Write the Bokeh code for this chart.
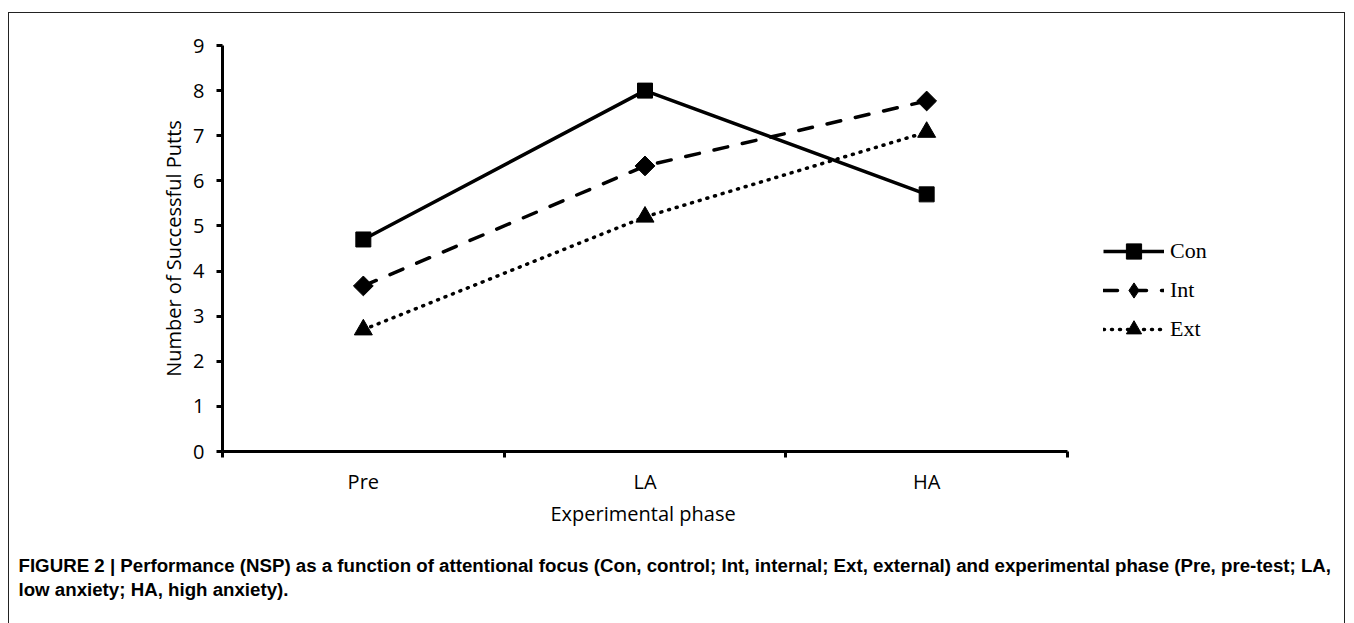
import numpy as np
from bokeh.plotting import figure
from bokeh.models import (FixedTicker, Legend, LegendItem, Title, Range1d)
from bokeh.embed import file_html
from bokeh.resources import INLINE

# ---- data ----
phases = ["Pre", "LA", "HA"]
con = [4.7, 8.0, 5.7]
int_ = [3.67, 6.33, 7.77]
ext = [2.7, 5.2, 7.08]
series_names = ["Con", "Int", "Ext"]
y_ticks = [0, 1, 2, 3, 4, 5, 6, 7, 8, 9]
x_title = "Experimental phase"
y_title = "Number of Successful Putts"
caption_1 = ("FIGURE 2 | Performance (NSP) as a function of attentional focus (Con, control; "
             "Int, internal; Ext, external) and experimental phase (Pre, pre-test; LA,")
caption_2 = "low anxiety; HA, high anxiety)."

xs = [i + 0.5 for i in range(len(phases))]

# layout constants (pixels)
W, H = 1337, 630
LEFT, TOP = 213, 32
FRAME_H = 406
BOTTOM = H - TOP - FRAME_H
AXIS_PX = 845                      # pixel length of the category axis
frame_w = W - LEFT
x_end = len(phases) * frame_w / AXIS_PX

p = figure(width=W, height=H, output_backend="svg", toolbar_location=None,
           x_range=Range1d(0, x_end), y_range=Range1d(0, 9))
p.margin = (12, 0, 0, 8)
p.styles = {"border": "1px solid #222222"}
p.min_border_left = LEFT
p.min_border_right = 0
p.min_border_top = TOP
p.min_border_bottom = BOTTOM
p.outline_line_color = None
p.xgrid.grid_line_color = None
p.ygrid.grid_line_color = None
p.background_fill_color = "white"
p.border_fill_color = "white"

tick_font = "Open Sans"

# y axis
ya = p.yaxis[0]
ya.ticker = FixedTicker(ticks=y_ticks)
ya.axis_line_width = 3
ya.axis_line_color = "black"
ya.major_tick_line_width = 3
ya.major_tick_line_color = "black"
ya.major_tick_in = 0
ya.major_tick_out = 6
ya.minor_tick_line_color = None
ya.major_label_text_font = tick_font
ya.major_label_text_font_size = "20px"
ya.major_label_text_color = "black"
ya.major_label_standoff = 12
ya.axis_label = y_title
ya.axis_label_text_font = tick_font
ya.axis_label_text_font_size = "20px"
ya.axis_label_text_font_style = "normal"
ya.axis_label_text_color = "black"
ya.axis_label_standoff = 3

# x axis
xa = p.xaxis[0]
xa.bounds = (0, len(phases))
xa.ticker = FixedTicker(ticks=xs, minor_ticks=list(range(len(phases) + 1)))
xa.major_label_overrides = {x: lab for x, lab in zip(xs, phases)}
xa.axis_line_width = 3
xa.axis_line_color = "black"
xa.major_tick_line_color = None
xa.major_tick_in = 0
xa.major_tick_out = 0
xa.minor_tick_line_width = 3
xa.minor_tick_line_color = "black"
xa.minor_tick_in = 0
xa.minor_tick_out = 6
xa.major_label_text_font = tick_font
xa.major_label_text_font_size = "20px"
xa.major_label_text_color = "black"
xa.major_label_standoff = 10

# x axis title centred under the category axis (not the wider frame)
p.add_layout(Title(text=x_title, align="left", offset=328, standoff=0,
                   text_font=tick_font, text_font_style="normal",
                   text_font_size="20px", text_color="black"), "below")

# series
l1 = p.line(xs, con, line_color="black", line_width=3.5)
s1 = p.scatter(xs, con, marker="square", size=15, fill_color="black", line_color="black")
l2 = p.line(xs, int_, line_color="black", line_width=3.5, line_dash="14 15", line_cap="round")
s2 = p.scatter(xs, int_, marker="square", angle=np.pi / 4, size=14,
               fill_color="black", line_color="black")
# diamond hidden beneath the rotated squares; used for the legend symbol
s2_leg = p.scatter(xs, int_, marker="diamond", size=13, fill_color="black", line_color="black")
l3 = p.line(xs, ext, line_color="black", line_width=3.5, line_dash="1 7", line_cap="round")
s3 = p.scatter(xs, ext, marker="triangle", size=18, fill_color="black", line_color="black")

legend = Legend(items=[
    LegendItem(label=series_names[0], renderers=[l1, s1]),
    LegendItem(label=series_names[1], renderers=[l2, s2_leg]),
    LegendItem(label=series_names[2], renderers=[l3, s3]),
], location=(881, 103))
legend.glyph_width = 61
legend.glyph_height = 38
legend.label_height = 20
legend.spacing = 1
legend.padding = 0
legend.margin = 0
legend.label_standoff = 6
legend.label_text_font = "Liberation Serif"
legend.label_text_font_size = "22px"
legend.label_text_color = "black"
legend.border_line_color = None
legend.background_fill_alpha = 0
p.add_layout(legend, "center")

# caption (two lines)
p.add_layout(Title(text=caption_1 + "\n" + caption_2, align="left", offset=-204, standoff=53,
                   text_font="Liberation Sans", text_font_style="bold",
                   text_font_size="18.7px", text_line_height=1.13,
                   text_color="black"), "below")

open("out.html", "w").write(file_html(p, INLINE))
